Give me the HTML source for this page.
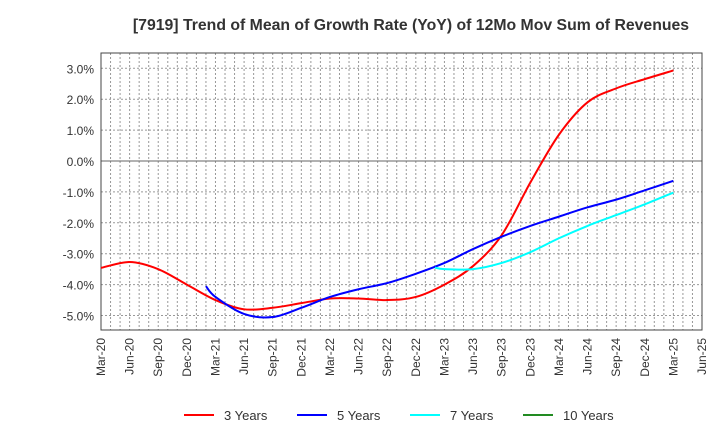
<!DOCTYPE html>
<html><head><meta charset="utf-8"><style>
body{margin:0;background:#fff;font-family:"Liberation Sans",sans-serif}
svg{display:block}
</style></head><body>
<svg id="c" width="720" height="440">
<text x="411" y="30" text-anchor="middle" font-size="15.8" font-weight="bold" fill="#333">[7919]  Trend of Mean of Growth Rate (YoY) of 12Mo Mov Sum of Revenues</text>
<g id="grid"></g><g id="axes"></g><g id="series"></g>
<g id="legend"></g>
</svg>
<script>
const xLabels=["Mar-20","Jun-20","Sep-20","Dec-20","Mar-21","Jun-21","Sep-21","Dec-21","Mar-22","Jun-22","Sep-22","Dec-22","Mar-23","Jun-23","Sep-23","Dec-23","Mar-24","Jun-24","Sep-24","Dec-24","Mar-25","Jun-25"];
const yTicks=[3,2,1,0,-1,-2,-3,-4,-5];
const seriesNames=["3 Years","5 Years","7 Years","10 Years"];
const seriesColors=["#ff0000","#0000ff","#00ffff","#228b22"];
const red3Months=[0,3,6,9,12,15,18,21,24,27,30,33,36,39,42,45,48,51,54,57,60];
const red3Vals=[-3.46,-3.27,-3.5,-4.0,-4.5,-4.8,-4.75,-4.6,-4.45,-4.45,-4.5,-4.4,-4.0,-3.4,-2.4,-0.7,0.85,1.9,2.35,2.65,2.93];
const blue5Months=[11,12,15,18,21,24,27,30,33,36,39,42,45,48,51,54,57,60];
const blue5Vals=[-4.05,-4.4,-4.95,-5.05,-4.75,-4.4,-4.15,-3.95,-3.65,-3.3,-2.85,-2.45,-2.1,-1.8,-1.5,-1.25,-0.95,-0.64];
const cyan7Months=[35,36,39,42,45,48,51,54,57,60];
const cyan7Vals=[-3.45,-3.5,-3.5,-3.3,-2.95,-2.5,-2.1,-1.75,-1.4,-1.02];
const L=101,R=702,T=53,B=330;
const X=m=>L+m*(R-L)/63;
const Y=v=>161-v*30.9;
const NS="http://www.w3.org/2000/svg";
function mk(p,tag,a){const e=document.createElementNS(NS,tag);for(const k in a)e.setAttribute(k,a[k]);p.appendChild(e);return e;}
const grid=document.getElementById('grid'),axes=document.getElementById('axes'),ser=document.getElementById('series'),leg=document.getElementById('legend');
for(let m=1;m<63;m++){const g=mk(grid,'line',{x1:X(m),x2:X(m),y1:T,y2:B,stroke:'#999','stroke-dasharray':'2,2','stroke-width':1});

}
yTicks.forEach(v=>{const g=mk(grid,'line',{x1:L,x2:R,y1:Y(v),y2:Y(v),stroke:v===0?'#666':'#999','stroke-dasharray':v===0?'':'2,2','stroke-width':1});

});
const fr=mk(axes,'rect',{x:L,y:T,width:R-L,height:B-T,fill:'none',stroke:'#444','stroke-width':1});


yTicks.forEach(v=>{const t=mk(axes,'text',{x:L-7,y:Y(v)+5,'text-anchor':'end','font-size':12,fill:'#333'});t.textContent=v.toFixed(1)+'%';

});
xLabels.forEach((s,i)=>{const x=X(i*3)+4,y=B+8;const t=mk(axes,'text',{x:x,y:y,'text-anchor':'end','font-size':12,fill:'#333',transform:`rotate(-90 ${x} ${y})`});t.textContent=s;

});
function path(ms,vs){const p=ms.map((m,i)=>[X(m),Y(vs[i])]);let d=`M${p[0][0]},${p[0][1]}`;
for(let i=0;i<p.length-1;i++){const p0=p[i-1]||p[i],p1=p[i],p2=p[i+1],p3=p[i+2]||p2;
d+=` C${p1[0]+(p2[0]-p0[0])/6},${p1[1]+(p2[1]-p0[1])/6} ${p2[0]-(p3[0]-p1[0])/6},${p2[1]-(p3[1]-p1[1])/6} ${p2[0]},${p2[1]}`;}return d;}
[[red3Months,red3Vals,0,'line-3-years'],[blue5Months,blue5Vals,1,'line-5-years'],[cyan7Months,cyan7Vals,2,'line-7-years']].forEach(([m,v,c,n])=>{
const e=mk(ser,'path',{d:path(m,v),fill:'none',stroke:seriesColors[c],'stroke-width':2});

});
const lx=[184,297,410,523];
seriesNames.forEach((s,i)=>{const l=mk(leg,'line',{x1:lx[i],x2:lx[i]+30,y1:415,y2:415,stroke:seriesColors[i],'stroke-width':2});


const t=mk(leg,'text',{x:lx[i]+40,y:420,'font-size':13,fill:'#333'});t.textContent=s;

});
</script>
</body></html>
